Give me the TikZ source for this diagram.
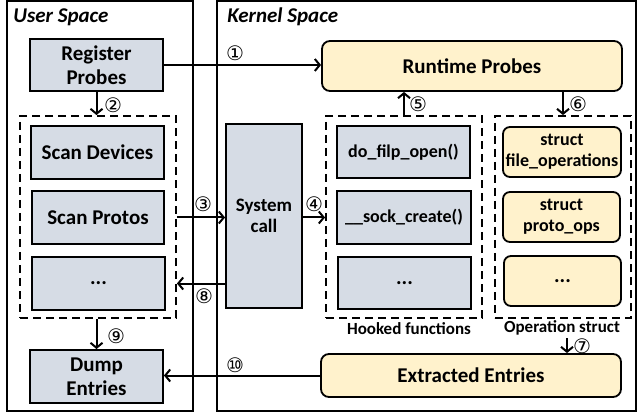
\documentclass[tikz,border=0pt]{standalone}
\usepackage{fontspec}
\setmainfont{Carlito}
\newfontfamily\circfont{DejaVu Sans}
\usetikzlibrary{arrows.meta}
\definecolor{grayblue}{HTML}{D6DCE5}
\definecolor{lightyellow}{HTML}{FFF2CC}

\begin{document}
\begin{tikzpicture}[x=1pt,y=-1pt,->,>={Straight Barb[length=5pt,width=12pt]},line width=2pt,
    frame/.style={draw,line width=1.6pt,inner sep=0pt},
    gray node/.style={draw,fill=grayblue,line width=1.8pt,inner sep=0pt,align=center,font=\fontsize{21}{24}\selectfont\bfseries},
    yellow node/.style={draw,fill=lightyellow,line width=1.8pt,rounded corners=8pt,inner sep=0pt,align=center,font=\fontsize{21}{24}\selectfont\bfseries},
    small text/.style={font=\fontsize{18}{21}\selectfont\bfseries},
    dash box/.style={draw,dash pattern=on 8pt off 5pt,line width=1.8pt,inner sep=0pt},
    num/.style={inner sep=0pt,font=\circfont\fontsize{20}{20}\selectfont}]
   \useasboundingbox (0,0) rectangle (637,414);
   % the two spaces
   \node[frame,minimum width=186,minimum height=410] (user) at (100,206) {};
   \node[frame,minimum width=419,minimum height=410] (kernel) at (426.5,206) {};
   \node[anchor=west,font=\fontsize{21}{24}\selectfont\bfseries\itshape] (usertitle) at (9,17) {User Space};
   \node[anchor=west,font=\fontsize{21}{24}\selectfont\bfseries\itshape] (kerneltitle) at (223,17) {Kernel Space};
   % user side
   \node[gray node,minimum width=133,minimum height=52] (regp) at (96.5,65) {Register\\Probes};
   \node[dash box,minimum width=156,minimum height=202] (userdash) at (98,217) {};
   \node[gray node,minimum width=133,minimum height=53] (scand) at (97.5,152.5) {Scan Devices};
   \node[gray node,minimum width=132,minimum height=53] (scanp) at (98,217.5) {Scan Protos};
   \node[gray node,minimum width=133,minimum height=53] (udots) at (98.5,283.5) {...};
   \node[gray node,minimum width=133,minimum height=53] (dump) at (96.5,376.5) {Dump\\Entries};
   % kernel side
   \node[gray node,minimum width=76,minimum height=184,font=\fontsize{19}{21}\selectfont\bfseries] (syscall) at (264,216) {System\\call};
   \node[yellow node,minimum width=300,minimum height=50] (rtp) at (472,66) {Runtime Probes};
   \node[dash box,minimum width=156,minimum height=202] (hooked) at (404,217) {};
   \node[gray node,small text,minimum width=133,minimum height=52] (dofilp) at (403.5,152) {do\_filp\_open()};
   \node[gray node,small text,minimum width=134,minimum height=53] (sockc) at (404,217.5) {\_\_sock\_create()};
   \node[gray node,minimum width=133,minimum height=52] (hdots) at (404.5,283) {...};
   \node[small text,font=\fontsize{17}{20}\selectfont\bfseries] (hooklabel) at (409,329) {Hooked functions};
   \node[dash box,minimum width=136,minimum height=202] (opsbox) at (563,217) {};
   \node[yellow node,small text,minimum width=118,minimum height=50,rounded corners=7pt] (fops) at (562,152) {struct\\file\_operations};
   \node[yellow node,small text,minimum width=117,minimum height=50,rounded corners=7pt] (pops) at (561.5,217) {struct\\proto\_ops};
   \node[yellow node,minimum width=117,minimum height=50,rounded corners=7pt] (odots) at (562.5,281) {...};
   \node[font=\fontsize{17}{20}\selectfont\bfseries] (oplabel) at (562,328) {Operation struct};
   \node[yellow node,minimum width=300,minimum height=43] (extr) at (471,375.5) {Extracted Entries};
   \coordinate (s7) at (567,338);
   % flow
   \path (regp.east) edge (rtp.west |- regp.east);
   \path (regp.south) edge (userdash.north -| regp.south);
   \path (userdash.east |- scanp) edge (syscall.west |- scanp);
   \path (syscall.east |- sockc) edge (hooked.west |- sockc);
   \path (hooked.north) edge (rtp.south -| hooked.north);
   \path (rtp.south -| opsbox.north) edge (opsbox.north);
   \path (s7) edge (extr.north -| s7);
   \path (syscall.west |- udots) edge (userdash.east |- udots);
   \path (dump.north |- userdash.south) edge (dump.north);
   \path (extr.west) edge (dump.east |- extr.west);
   % step numbers
   \node[num] (n1) at (235,53) {①};
   \node[num] (n2) at (113,105) {②};
   \node[num] (n3) at (203,204) {③};
   \node[num] (n4) at (314,204) {④};
   \node[num] (n5) at (418,104) {⑤};
   \node[num] (n6) at (578,104) {⑥};
   \node[num] (n7) at (582,346) {⑦};
   \node[num] (n8) at (204,296) {⑧};
   \node[num] (n9) at (116,336) {⑨};
   \node[num] (n10) at (235,365) {⑩};
\end{tikzpicture}
\end{document}
